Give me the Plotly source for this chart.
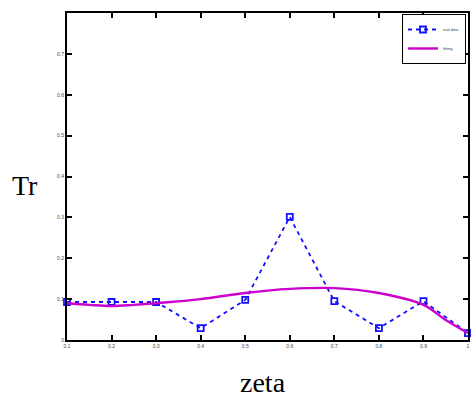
import plotly.graph_objects as go

zeta = [0.1, 0.2, 0.3, 0.4, 0.5, 0.6, 0.7, 0.8, 0.9, 1.0]
tr_real = [0.093, 0.093, 0.093, 0.029, 0.098, 0.301, 0.095, 0.029, 0.095, 0.017]

zeta_fit = [0.1, 0.15, 0.2, 0.25, 0.3, 0.4, 0.5, 0.6, 0.7, 0.8, 0.9, 0.95, 1.0]
tr_fit = [0.090, 0.086, 0.083, 0.086, 0.090, 0.100, 0.115, 0.125, 0.127, 0.115, 0.086, 0.049, 0.017]

xticks = [0.1, 0.2, 0.3, 0.4, 0.5, 0.6, 0.7, 0.8, 0.9, 1.0]
yticks = [0.0, 0.1, 0.2, 0.3, 0.4, 0.5, 0.6, 0.7, 0.8]
ytick_text = ["0", "0.1", "0.2", "0.3", "0.4", "0.5", "0.6", "0.7", ""]

fig = go.Figure()
fig.add_trace(go.Scatter(
    x=zeta, y=tr_real, mode="lines+markers", name="real data",
    line=dict(color="#1010ff", width=1.8, dash="4px,4px"),
    marker=dict(symbol="square-open", size=6, color="#1010ff", line=dict(width=1.8)),
    cliponaxis=False,
))
fig.add_trace(go.Scatter(
    x=zeta_fit, y=tr_fit, mode="lines", name="fitting",
    line=dict(color="#cc00cc", width=2.4, shape="spline"),
))

axis_common = dict(
    showgrid=False, zeroline=False, showline=True, linecolor="black", linewidth=2,
    mirror="ticks", ticks="inside", ticklen=5, tickwidth=1.5, tickcolor="black",
    tickfont=dict(size=5, color="#444", family="Liberation Sans"),
)
fig.update_xaxes(range=[0.1, 1.0], tickvals=xticks, **axis_common)
fig.update_yaxes(range=[0.0, 0.8], tickvals=yticks, ticktext=ytick_text, **axis_common)

fig.add_annotation(text="Tr", xref="paper", yref="paper", x=-0.104, y=0.474,
                   xanchor="center", yanchor="middle", showarrow=False,
                   font=dict(family="Liberation Serif", size=28, color="black"))
fig.add_annotation(text="zeta", xref="paper", yref="paper", x=0.49, y=-0.131,
                   xanchor="center", yanchor="middle", showarrow=False,
                   font=dict(family="Liberation Serif", size=28, color="black"))

fig.update_layout(
    width=471, height=405,
    margin=dict(l=67, r=1, t=13, b=65),
    plot_bgcolor="white", paper_bgcolor="white",
    legend=dict(x=0.995, y=0.997, xanchor="right", yanchor="top",
                bgcolor="white", bordercolor="black", borderwidth=1,
                font=dict(size=4, family="Liberation Sans"),
                itemwidth=30, tracegroupgap=0),
)
fig.write_html("out.html")
